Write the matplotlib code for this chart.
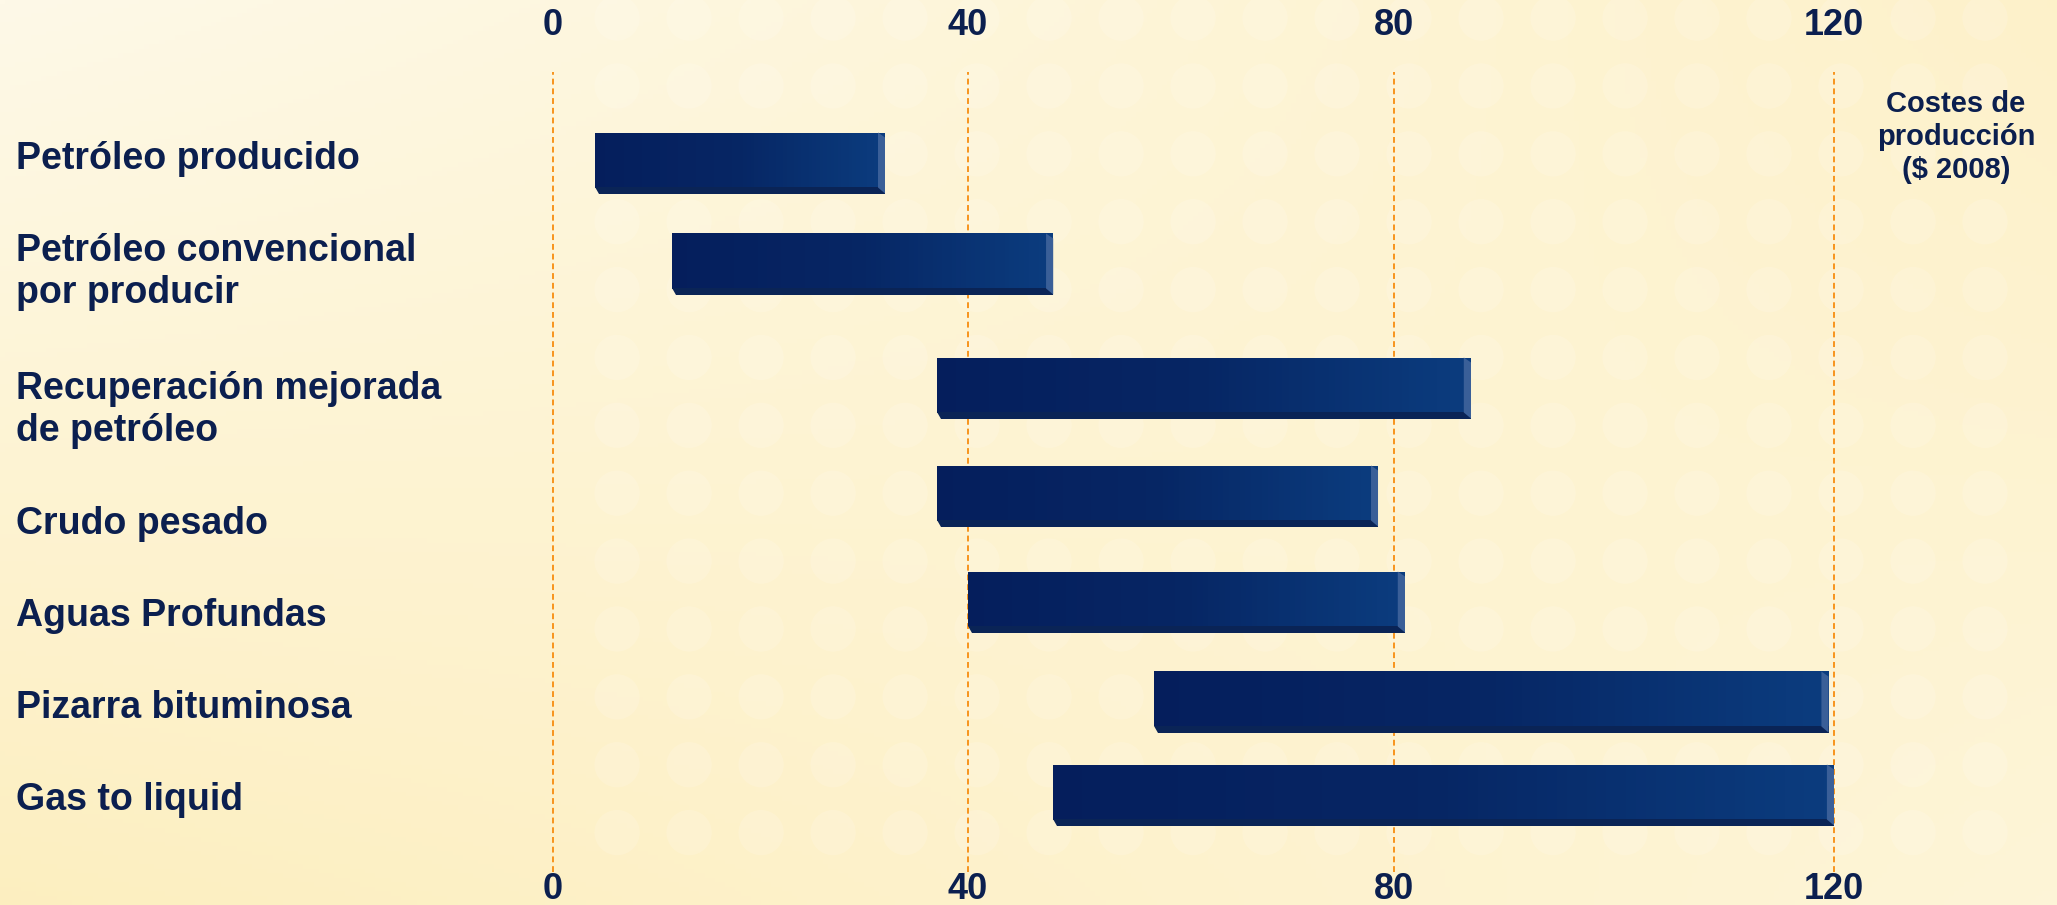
import numpy as np
import matplotlib.pyplot as plt
from matplotlib.patches import Polygon, Ellipse
from matplotlib.colors import LinearSegmentedColormap
from matplotlib.transforms import blended_transform_factory

# data: cost ranges (US$ 2008 per barrel)
categories = ['Petróleo producido', 'Petróleo convencional\npor producir',
              'Recuperación mejorada\nde petróleo', 'Crudo pesado',
              'Aguas Profundas', 'Pizarra bituminosa', 'Gas to liquid']
cost_low = [4, 11.5, 37, 37, 40, 57.5, 48]
cost_high = [32, 48, 87, 78.5, 81, 119.5, 120]
ticks = [0, 40, 80, 120]
unit_label = 'Costes de\nproducción\n($ 2008)'

# layout (rows in 100 px units from the top of the plot area)
row_y = [0.91, 1.92, 3.16, 4.24, 5.30, 6.30, 7.23]
label_y = [0.87, 2.00, 3.38, 4.52, 5.44, 6.36, 7.28]
face_h = 0.55
shadow_h = 0.06
# the original axis is slightly uneven: pixel position of each tick
tick_px = [553, 968, 1394, 1834]

navy = '#0B1F4F'
plt.rcParams['font.family'] = ['Liberation Sans', 'DejaVu Sans']
plt.rcParams['font.weight'] = 'bold'

W, H = 2057, 905
fig = plt.figure(figsize=(W / 100, H / 100), dpi=100)

# background: warm cream gradient
bg = fig.add_axes([0, 0, 1, 1])
yy, xx = np.mgrid[0:1:200j, 0:1:400j]
c1 = np.array([254, 249, 232]) / 255
c2 = np.array([252, 232, 165]) / 255
t = np.clip(0.35 * (1 - xx) * yy + 0.45 * xx * (1 - yy) + 0.25 * yy, 0, 1)
img = c1[None, None, :] * (1 - t[..., None]) + c2[None, None, :] * t[..., None]
bg.imshow(img, extent=[0, 1, 0, 1], aspect='auto', origin='upper')
# faint dotted texture
for cy in np.arange(0.08, 1.0, 0.075):
    for cx in np.arange(0.30, 1.0, 0.035):
        bg.add_patch(Ellipse((cx, cy), 0.022, 0.05, color='white', alpha=0.14, lw=0))
bg.set_xlim(0, 1)
bg.set_ylim(0, 1)
bg.axis('off')


def fwd(v):
    v = np.asarray(v, dtype=float)
    out = np.interp(v, ticks, tick_px)
    lo_s = (tick_px[1] - tick_px[0]) / (ticks[1] - ticks[0])
    hi_s = (tick_px[-1] - tick_px[-2]) / (ticks[-1] - ticks[-2])
    out = np.where(v < ticks[0], tick_px[0] + (v - ticks[0]) * lo_s, out)
    out = np.where(v > ticks[-1], tick_px[-1] + (v - ticks[-1]) * hi_s, out)
    return out


def inv(p):
    p = np.asarray(p, dtype=float)
    out = np.interp(p, tick_px, ticks)
    lo_s = (tick_px[1] - tick_px[0]) / (ticks[1] - ticks[0])
    hi_s = (tick_px[-1] - tick_px[-2]) / (ticks[-1] - ticks[-2])
    out = np.where(p < tick_px[0], ticks[0] + (p - tick_px[0]) / lo_s, out)
    out = np.where(p > tick_px[-1], ticks[-1] + (p - tick_px[-1]) / hi_s, out)
    return out


top_px, bot_px = 72, 872
ax = fig.add_axes([0, 1 - bot_px / H, 1, (bot_px - top_px) / H])
ax.patch.set_alpha(0)
ax.set_xscale('function', functions=(fwd, inv))
ax.set_xlim(float(inv(0)), float(inv(W)))
ax.set_ylim((bot_px - top_px) / 100, 0)

cmap = LinearSegmentedColormap.from_list('bar', ['#051E5C', '#062664', '#0B3C7E'])
n_seg = 80
for y, lo, hi in zip(row_y, cost_low, cost_high):
    fy = y - shadow_h / 2
    top, bot = fy - face_h / 2, fy + face_h / 2
    edges = np.linspace(lo, hi, n_seg + 1)
    ax.barh(np.full(n_seg, fy), np.diff(edges) * 1.02, left=edges[:-1], height=face_h,
            color=cmap(np.linspace(0, 1, n_seg)), lw=0, zorder=3)
    bevel_w = (hi - lo) / (fwd(hi) - fwd(lo)) * 7
    # bottom shadow and right bevel
    ax.add_patch(Polygon([[lo, bot - 0.01], [hi, bot - 0.01], [hi, bot + shadow_h],
                          [lo + bevel_w * 0.6, bot + shadow_h]],
                         closed=True, color='#0A2456', lw=0, zorder=4))
    ax.add_patch(Polygon([[hi - bevel_w, top], [hi, top + 0.05], [hi, bot + shadow_h],
                          [hi - bevel_w, bot]],
                         closed=True, color='#3A5F98', lw=0, zorder=4))

ax.set_xticks(ticks)
ax.set_xticklabels([str(v) for v in ticks])
ax.set_yticks([])
ax.grid(axis='x', color='#F7941D', linestyle=(0, (3, 2)), linewidth=1.4, zorder=1)
ax.tick_params(axis='x', length=0, pad=0, labelsize=26, labelcolor=navy)
for s in ax.spines.values():
    s.set_visible(False)

ax_top = ax.twiny()
ax_top.set_xscale('function', functions=(fwd, inv))
ax_top.set_xlim(ax.get_xlim())
ax_top.set_xticks(ticks)
ax_top.set_xticklabels([str(v) for v in ticks])
ax_top.tick_params(length=0, pad=21, labelsize=26, labelcolor=navy)
for s in ax_top.spines.values():
    s.set_visible(False)

lab_tr = blended_transform_factory(fig.transFigure, ax.transData)
for lab, y in zip(categories, label_y):
    ax.text(16 / W, y, lab, transform=lab_tr, ha='left', va='center',
            fontsize=27, color=navy, fontweight='bold', linespacing=1.2)

fig.text(1956 / W, 1 - 137 / H, unit_label, ha='center', va='center',
         fontsize=21, color=navy, fontweight='bold', linespacing=1.25)

fig.savefig('out.png', dpi=100)
